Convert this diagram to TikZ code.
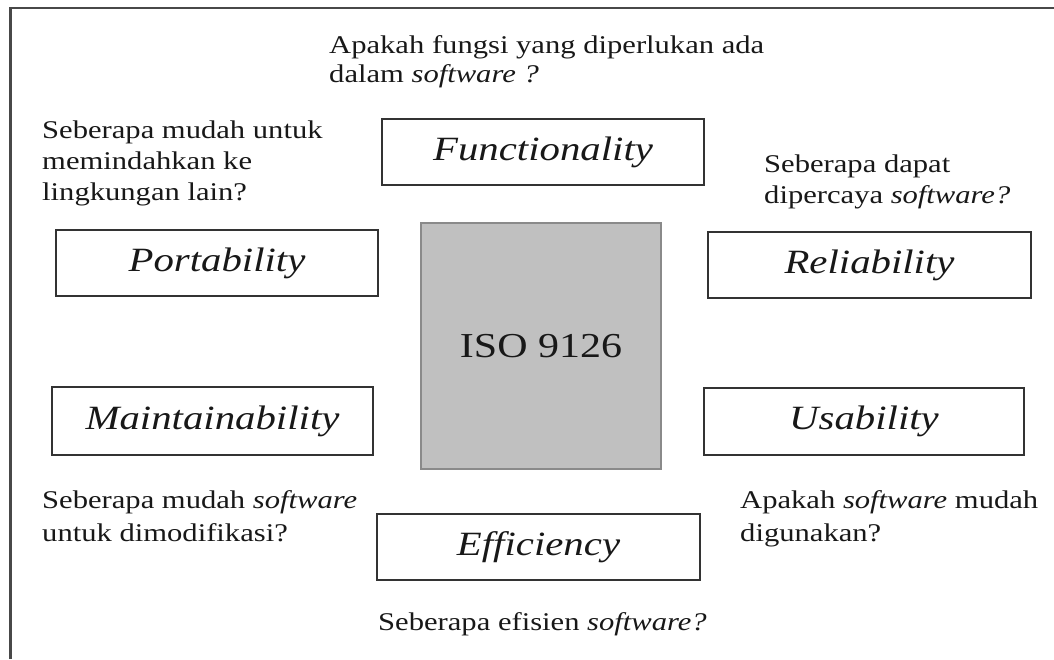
\documentclass[tikz,border=0pt]{standalone}
\usepackage{fontspec}
\setmainfont{Liberation Serif}[FakeStretch=1.2]
\definecolor{isogray}{HTML}{C0C0C0}
\definecolor{isoedge}{HTML}{8A8A8A}
\definecolor{frameline}{HTML}{484848}
\definecolor{ink}{HTML}{181818}
\begin{document}
\begin{tikzpicture}[x=1pt,y=-1pt,
  qbox/.style={draw=black!80, line width=2pt, inner sep=0pt, text=ink, font=\fontsize{34}{40}\selectfont\itshape},
  isobox/.style={draw=isoedge, fill=isogray, line width=1.8pt, inner sep=0pt, text=ink, font=\fontsize{35}{40}\selectfont},
  ques/.style={anchor=north west, inner sep=0pt, align=left, text=ink, font=\fontsize{25.5}{31}\selectfont}]
\useasboundingbox (0,0) rectangle (1054,659);
\fill[white] (0,0) rectangle (1054,659);
% frame (top and left edges only visible)
\draw[frameline, line width=2.2pt] (10.5,659) -- (10.5,8) -- (1054,8);
% boxes
\node[qbox, minimum width=322pt, minimum height=66pt] (func) at (543,152) {Functionality};
\node[qbox, minimum width=322pt, minimum height=66pt] (port) at (217,263) {Portability};
\node[qbox, minimum width=323pt, minimum height=66pt] (reli) at (869.5,265) {Reliability};
\node[qbox, minimum width=321pt, minimum height=68pt] (main) at (212.5,421) {Maintainability};
\node[qbox, minimum width=320pt, minimum height=67pt] (usab) at (864,421.5) {Usability};
\node[qbox, minimum width=323pt, minimum height=66pt] (effi) at (538.5,547) {Efficiency};
\node[isobox, minimum width=240pt, minimum height=246pt] (iso) at (541,346) {ISO 9126};
% questions
\node[ques] (qfunc) at (329,35.5) {Apakah fungsi yang diperlukan ada\\[-2pt]dalam \textit{software ?}};
\node[ques] (qport) at (42,120.5) {Seberapa mudah untuk\\memindahkan ke\\lingkungan lain?};
\node[ques] (qreli) at (764,154.5) {Seberapa dapat\\dipercaya \textit{software?}};
\node[ques] (qmain) at (42,490.5) {Seberapa mudah \textit{software}\\[2pt]untuk dimodifikasi?};
\node[ques] (qusab) at (740,490.5) {Apakah \textit{software} mudah\\[2pt]digunakan?};
\node[ques] (qeffi) at (378,612.5) {Seberapa efisien \textit{software?}};
\end{tikzpicture}
\end{document}
